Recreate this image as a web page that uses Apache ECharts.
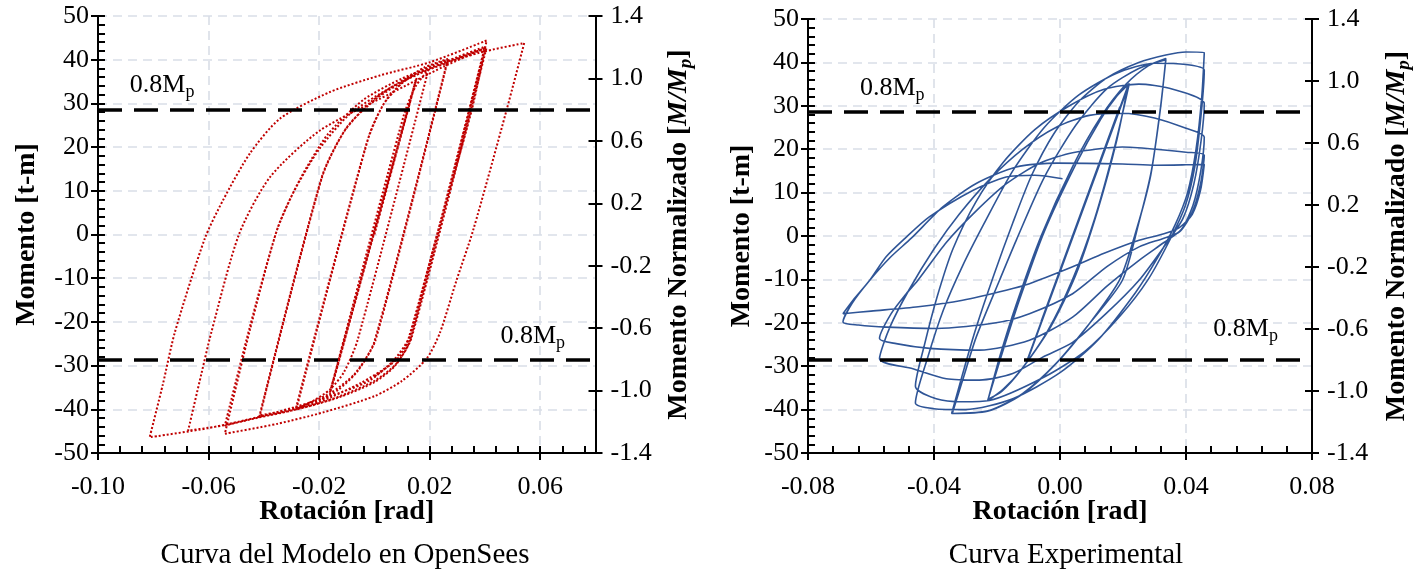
<!DOCTYPE html>
<html><head><meta charset="utf-8">
<script src="https://cdn.jsdelivr.net/npm/echarts@6/dist/echarts.min.js"></script>
<style>html,body{margin:0;padding:0;background:#fff}#c{width:1424px;height:571px}</style>
</head><body><div id="c"></div>
<script>
const FONT = '"Liberation Serif","Times New Roman",serif';

// ---- tick labels ----
const xTicksModel = [-0.10, -0.06, -0.02, 0.02, 0.06];
const xTicksExp = [-0.08, -0.04, 0.00, 0.04, 0.08];
const yTicksNorm = [-1.4, -1.0, -0.6, -0.2, 0.2, 0.6, 1.0, 1.4];
const mpLevels = [0.8, -0.8];

// ---- OpenSees model curve [rotation rad, moment t-m] ----
const modelCurve = [
[0,0],
[0.0152,35.6],[-0.0161,-36.1],[0.0150,35.4],[-0.0158,-35.8],[0.0153,35.8],[-0.0160,-36.0],
[0.0105,27.0],[0.0150,34.0],[0.0195,37.6],
[-0.0060,-24.0],[-0.0110,-31.5],[-0.0161,-35.5],[-0.0220,-38.0],[-0.0282,-39.9],
[-0.0020,22.5],[0.0040,30.5],[0.0110,35.3],[0.0180,38.2],[0.0267,40.2],
[0.0005,-24.0],[-0.0060,-31.2],[-0.0130,-35.5],[-0.0200,-38.0],[-0.0285,-40.0],
[-0.0030,20.5],[0.0030,29.5],[0.0100,34.6],[0.0180,37.9],[0.0265,40.0],
[0.0000,-24.5],[-0.0070,-31.8],[-0.0160,-36.3],[-0.0280,-39.6],[-0.0414,-41.4],
[-0.0190,13.0],[-0.0110,23.5],[-0.0010,30.5],[0.0120,35.9],[0.0250,39.2],[0.0400,42.6],
[0.0130,-24.0],[0.0075,-30.0],[0.0000,-33.8],[-0.0130,-37.3],[-0.0280,-40.0],[-0.0416,-41.6],
[-0.0190,13.2],[-0.0100,24.5],[0.0010,31.2],[0.0140,36.2],[0.0280,39.7],[0.0406,42.8],
[0.0135,-23.5],[0.0080,-29.5],[0.0000,-33.5],[-0.0150,-37.6],[-0.0300,-40.3],[-0.0420,-41.9],[-0.0541,-43.7],
[-0.0450,-21.0],[-0.0355,0.5],[-0.0290,10.0],[-0.0200,19.5],[-0.0090,27.5],[0.0050,33.3],[0.0200,37.8],[0.0380,41.6],[0.0542,43.8],
[0.0478,28.4],[0.0357,0.9],[0.0297,-10.5],[0.0237,-22.5],[0.0189,-28.4],[0.0100,-33.5],[0.0000,-37.0],[-0.0185,-40.7],[-0.0350,-43.3],[-0.0541,-45.6],
[-0.0451,-22.0],[-0.0350,1.5],[-0.0270,12.5],[-0.0170,22.8],[-0.0040,30.8],[0.0100,35.7],[0.0250,39.4],[0.0400,43.0],
[0.0128,-23.2],[0.0068,-28.9],[-0.0020,-33.5],[-0.0161,-37.0],[-0.0350,-40.6],[-0.0541,-43.6],[-0.0674,-44.9],
[-0.0626,-31.9],[-0.0590,-22.4],[-0.0490,0.0],[-0.0378,13.1],[-0.0197,23.8],[0.0056,32.2],[0.0250,38.4],[0.0400,42.6],
[0.0125,-23.5],[0.0060,-29.5],[-0.0050,-34.0],[-0.0200,-38.3],[-0.0414,-41.7],[-0.0600,-44.3],[-0.0813,-46.4],
[-0.0765,-34.2],[-0.0722,-22.4],[-0.0614,-1.0],[-0.0548,7.8],[-0.0451,18.5],[-0.0342,26.5],[-0.0161,32.6],[0.0020,36.4],[0.0200,39.4],[0.0406,44.4],
[0.0352,28.4],[0.0225,-0.5],[0.0130,-23.0],[0.0090,-28.0],[0.0000,-32.5]
];

// ---- Experimental curve [rotation rad, moment t-m] ----
const expCurve = [
[0.0040,0.0],[0.0120,15.7],[-0.0020,-11.8],[0.0160,23.6],[-0.0060,-19.7],[0.0190,29.8],[-0.0108,-29.4],[0.0220,35.1],[-0.0105,-29.0],[0.0216,34.7],
[0.0180,22.0],[0.0120,6.0],[0.0050,-9.0],[-0.0030,-21.0],[-0.0120,-30.5],[-0.0180,-35.3],[-0.0230,-38.0],
[-0.0190,-28.5],[-0.0130,-15.0],[-0.0050,1.0],[0.0050,16.5],[0.0130,27.0],[0.0180,32.2],[0.0220,35.1],
[0.0175,21.0],[0.0110,4.0],[0.0040,-10.0],[-0.0040,-22.0],[-0.0125,-31.0],[-0.0185,-35.8],[-0.0228,-37.6],
[-0.0190,-27.5],[-0.0140,-16.0],[-0.0060,0.0],[0.0040,16.0],[0.0130,27.5],[0.0210,35.0],[0.0280,39.2],[0.0336,40.9],
[0.0320,30.0],[0.0290,15.0],[0.0250,3.0],[0.0198,-10.2],[0.0093,-20.2],[-0.0013,-29.4],[-0.0119,-36.3],[-0.0224,-40.2],[-0.0342,-40.9],
[-0.0309,-33.2],[-0.0266,-23.3],[-0.0192,-10.2],[-0.0139,-1.0],[-0.0050,13.5],[0.0050,25.5],[0.0150,34.0],[0.0250,38.6],[0.0336,40.6],
[0.0318,29.0],[0.0288,14.0],[0.0245,2.0],[0.0190,-10.0],[0.0090,-20.5],[-0.0015,-29.6],[-0.0120,-36.5],[-0.0230,-40.4],[-0.0344,-40.9],
[-0.0310,-32.0],[-0.0270,-22.0],[-0.0210,-9.0],[-0.0150,3.0],[-0.0090,14.0],[-0.0020,23.5],[0.0060,31.0],[0.0150,36.5],[0.0250,40.0],[0.0336,41.7],[0.0400,42.4],[0.0458,42.3],
[0.0450,32.0],[0.0432,20.0],[0.0405,10.0],[0.0365,2.5],[0.0310,-5.0],[0.0240,-13.0],[0.0120,-24.0],[0.0000,-31.5],[-0.0150,-37.5],[-0.0300,-40.0],[-0.0400,-39.8],[-0.0459,-38.5],
[-0.0420,-28.0],[-0.0370,-17.0],[-0.0310,-7.0],[-0.0240,3.0],[-0.0150,15.0],[-0.0050,25.0],[0.0060,32.5],[0.0180,37.5],[0.0300,39.8],[0.0400,39.5],[0.0458,38.2],
[0.0448,28.0],[0.0428,16.0],[0.0398,7.0],[0.0355,0.0],[0.0280,-10.0],[0.0190,-18.5],[0.0080,-26.5],[-0.0050,-32.5],[-0.0224,-37.9],[-0.0309,-38.2],[-0.0393,-37.5],[-0.0459,-34.6],
[-0.0430,-25.0],[-0.0390,-14.0],[-0.0340,-3.0],[-0.0266,8.0],[-0.0180,17.0],[-0.0080,24.5],[0.0030,30.0],[0.0140,33.8],[0.0250,35.0],[0.0350,34.0],[0.0458,30.5],
[0.0448,22.0],[0.0425,12.0],[0.0390,4.0],[0.0330,-2.5],[0.0251,-10.2],[0.0146,-17.9],[0.0040,-24.5],[-0.0055,-27.9],[-0.0150,-31.7],[-0.0256,-33.2],[-0.0361,-32.9],[-0.0467,-30.6],[-0.0573,-28.3],
[-0.0540,-21.0],[-0.0480,-12.5],[-0.0400,-3.0],[-0.0320,5.0],[-0.0224,13.0],[-0.0118,20.0],[-0.0013,25.0],[0.0093,27.8],[0.0198,28.3],[0.0300,27.2],[0.0400,24.8],[0.0458,22.8],
[0.0447,15.0],[0.0422,7.0],[0.0385,1.5],[0.0330,-1.5],[0.0251,-5.6],[0.0150,-11.5],[0.0040,-18.7],[-0.0097,-24.0],[-0.0256,-26.3],[-0.0414,-25.9],[-0.0520,-24.8],[-0.0573,-23.6],
[-0.0536,-17.9],[-0.0488,-13.3],[-0.0451,-10.2],[-0.0361,-1.5],[-0.0270,5.5],[-0.0171,12.0],[-0.0066,16.7],[0.0040,19.2],[0.0198,20.5],[0.0304,20.0],[0.0400,19.3],[0.0458,18.6],
[0.0446,12.0],[0.0420,5.5],[0.0380,1.0],[0.0330,-0.5],[0.0251,-2.5],[0.0150,-7.0],[0.0040,-13.3],[-0.0097,-17.9],[-0.0203,-20.0],[-0.0393,-21.3],[-0.0550,-21.0],[-0.0640,-20.5],[-0.0689,-19.8],
[-0.0660,-15.5],[-0.0604,-10.2],[-0.0540,-5.0],[-0.0472,-0.5],[-0.0372,6.7],[-0.0266,12.1],[-0.0139,15.9],[-0.0010,16.8],[0.0198,16.6],[0.0304,16.3],[0.0400,16.4],[0.0458,16.5],
[0.0446,10.5],[0.0420,5.0],[0.0380,2.0],[0.0330,0.5],[0.0251,-1.0],[0.0140,-4.0],[0.0040,-7.1],[-0.0097,-11.0],[-0.0171,-12.5],[-0.0309,-14.8],[-0.0450,-16.3],[-0.0600,-17.3],[-0.0689,-17.9],
[-0.0657,-14.8],[-0.0604,-10.2],[-0.0552,-4.8],[-0.0493,-0.6],[-0.0415,4.4],[-0.0277,10.5],[-0.0171,13.6],[-0.0080,14.0],[0.0008,13.2]
];

// ---- helpers ----
function minorList(min, max, step) {
  const out = []; const n = Math.round((max - min) / step);
  for (let i = 0; i <= n; i++) out.push(+(min + i * step).toFixed(4));
  return out;
}
const BLACK = '#000';
const tickStyle = { color: BLACK, width: 2 };
const labelBase = { fontFamily: FONT, fontSize: 26, color: BLACK };
const titleStyle = { fontFamily: FONT, fontSize: 28, fontWeight: 'bold', color: BLACK };
const gridLine = { show: true, lineStyle: { color: '#D9DEE7', width: 1.6, type: [9, 6] } };
const normName = '{n|Momento Normalizado [}{i|M/M}{s|p}{n|]}';
const normRich = {
  n: { fontFamily: FONT, fontSize: 28, fontWeight: 'bold', color: BLACK, lineHeight: 34, verticalAlign: 'middle' },
  i: { fontFamily: FONT, fontSize: 28, fontWeight: 'bold', fontStyle: 'italic', color: BLACK, lineHeight: 34, verticalAlign: 'middle' },
  s: { fontFamily: FONT, fontSize: 19, fontWeight: 'bold', fontStyle: 'italic', color: BLACK, lineHeight: 16, verticalAlign: 'bottom' }
};

const grids = [
  { left: 98, right: 1424 - 595.5, top: 16, bottom: 118 },
  { left: 98, right: 1424 - 595.5, top: 16, bottom: 118 },
  { left: 808, right: 1424 - 1312, top: 19, bottom: 118 },
  { left: 808, right: 1424 - 1312, top: 19, bottom: 118 }
];

function mainX(gi, min, max, ticks) {
  return {
    type: 'value', gridIndex: gi, min, max, position: 'bottom',
    name: 'Rotación [rad]', nameLocation: 'middle', nameGap: 45, nameMoveOverlap: false,
    nameTextStyle: titleStyle,
    axisLine: { show: true, onZero: false, lineStyle: tickStyle },
    axisTick: { show: true, inside: false, length: 7, customValues: ticks, lineStyle: tickStyle },
    axisLabel: { customValues: ticks, margin: 21, formatter: v => v.toFixed(2), ...labelBase },
    splitLine: gridLine
  };
}
function innerX(gi, min, max, vals) {
  return {
    type: 'value', gridIndex: gi, min, max, position: 'bottom',
    axisLine: { show: false, onZero: false }, axisLabel: { show: false }, splitLine: { show: false },
    axisTick: { show: true, inside: true, length: 7, customValues: vals, lineStyle: tickStyle }
  };
}
function mainY(gi, gap) {
  return {
    type: 'value', gridIndex: gi, min: -50, max: 50, interval: 10, position: 'left',
    name: 'Momento [t-m]', nameLocation: 'middle', nameRotate: 90, nameGap: gap, nameMoveOverlap: false,
    nameTextStyle: titleStyle,
    axisLine: { show: true, onZero: false, lineStyle: tickStyle },
    axisTick: { show: true, inside: false, length: 7, lineStyle: tickStyle },
    axisLabel: { margin: 9, ...labelBase },
    splitLine: gridLine
  };
}
function innerY(gi) {
  return {
    type: 'value', gridIndex: gi, min: -50, max: 50, interval: 2, position: 'left',
    axisLine: { show: false, onZero: false }, axisLabel: { show: false }, splitLine: { show: false },
    axisTick: { show: true, inside: true, length: 7, lineStyle: tickStyle }
  };
}
function normY(gi, gap) {
  return {
    type: 'value', gridIndex: gi, min: -1.4, max: 1.4, position: 'right',
    name: normName, nameLocation: 'middle', nameRotate: 90, nameGap: gap, nameMoveOverlap: false,
    nameTextStyle: { rich: normRich },
    axisLine: { show: true, onZero: false, lineStyle: tickStyle },
    axisTick: { show: true, inside: false, length: 7, customValues: yTicksNorm, lineStyle: tickStyle },
    axisLabel: { customValues: yTicksNorm, margin: 15, formatter: v => v.toFixed(1), ...labelBase },
    splitLine: { show: false }
  };
}
function normInnerY(gi) {
  return {
    type: 'value', gridIndex: gi, min: -1.4, max: 1.4, position: 'right',
    axisLine: { show: false, onZero: false }, axisLabel: { show: false }, splitLine: { show: false },
    axisTick: { show: true, inside: true, length: 7, customValues: yTicksNorm, lineStyle: tickStyle }
  };
}

const mpLine = {
  symbol: 'none', silent: true, animation: false,
  lineStyle: { color: BLACK, width: 3.5, type: [24, 12] },
  label: { show: false },
  data: mpLevels.map(v => ({ yAxis: v }))
};

const chart = echarts.init(document.getElementById('c'), null, { renderer: 'canvas' });
chart.setOption({
  animation: false,
  backgroundColor: '#fff',
  grid: grids,
  title: [
    { text: 'Curva del Modelo en OpenSees', left: 340, top: 536, textAlign: 'center',
      textStyle: { fontFamily: FONT, fontSize: 29, fontWeight: 'normal', color: BLACK } },
    { text: 'Curva Experimental', left: 1061, top: 536, textAlign: 'center',
      textStyle: { fontFamily: FONT, fontSize: 29, fontWeight: 'normal', color: BLACK } }
  ],
  xAxis: [
    mainX(0, -0.10, 0.08, xTicksModel),
    innerX(1, -0.10, 0.08, minorList(-0.10, 0.08, 0.008)),
    mainX(2, -0.08, 0.08, xTicksExp),
    innerX(3, -0.08, 0.08, minorList(-0.08, 0.08, 0.008))
  ],
  yAxis: [
    mainY(0, 57), normY(0, 66), innerY(1), normInnerY(1),
    mainY(2, 52), normY(2, 68), innerY(3), normInnerY(3)
  ],
  series: [
    { type: 'line', xAxisIndex: 0, yAxisIndex: 1, data: [], markLine: mpLine },
    { type: 'line', xAxisIndex: 2, yAxisIndex: 5, data: [], markLine: mpLine },
    { type: 'line', name: 'OpenSees', xAxisIndex: 0, yAxisIndex: 0, data: modelCurve,
      showSymbol: false, smooth: 0.25, z: 3,
      lineStyle: { color: '#C00000', width: 2, type: [2, 2] } },
    { type: 'line', name: 'Experimental', xAxisIndex: 2, yAxisIndex: 4, data: expCurve,
      showSymbol: false, smooth: 0.25, z: 3,
      lineStyle: { color: '#2F5597', width: 1.6 } }
  ]
});

// 0.8Mp annotations positioned through the axes
const mpRich = {
  a: { fontFamily: FONT, fontSize: 26, fill: BLACK, lineHeight: 32, verticalAlign: 'middle' },
  b: { fontFamily: FONT, fontSize: 18, fill: BLACK, lineHeight: 15, verticalAlign: 'bottom' }
};
function mpLabel(xi, yi, xv, yv, dy, align) {
  const p = chart.convertToPixel({ xAxisIndex: xi, yAxisIndex: yi }, [xv, yv]);
  return { type: 'text', x: p[0], y: p[1] - dy, z: 10,
    style: { text: '{a|0.8M}{b|p}', rich: mpRich, align: align, verticalAlign: 'middle' } };
}
chart.setOption({
  graphic: [
    mpLabel(0, 1, -0.0885, 0.8, 24, 'left'),
    mpLabel(0, 1, 0.0690, -0.8, 23, 'right'),
    mpLabel(2, 5, -0.0635, 0.8, 24, 'left'),
    mpLabel(2, 5, 0.0692, -0.8, 31, 'right')
  ]
});
</script>
</body></html>
